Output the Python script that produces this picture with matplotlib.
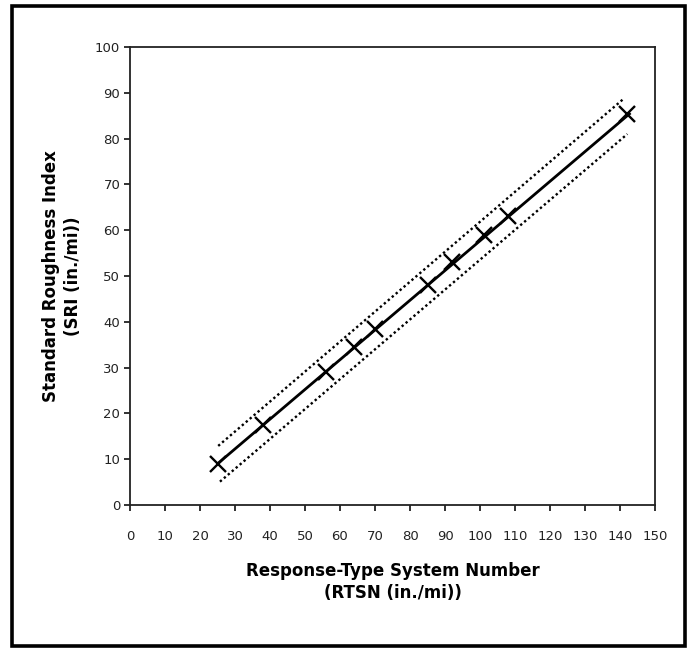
import matplotlib
matplotlib.use("Agg")
from matplotlib import pyplot as plt
from matplotlib.patches import Rectangle

# measured RTSN vs SRI pairs
rtsn = [25, 38, 56, 64, 70, 85, 92, 101, 108, 142]
sri = [9, 17.5, 29, 34.5, 38.5, 48, 53, 59, 63, 85.3]

# regression line and its band (end points)
fit_x = [25, 143]
fit_y = [9, 85.6]
upper_x = [25.2, 141.2]
upper_y = [12.9, 88.8]
lower_x = [25.7, 142.1]
lower_y = [5.1, 81.0]

xticks = list(range(0, 151, 10))
yticks = list(range(0, 101, 10))

plt.rcParams['font.family'] = ['DejaVu Sans']

fig = plt.figure(figsize=(6.93, 6.52), dpi=100)
ax = fig.add_axes([130 / 693, 1 - 505 / 652, 525 / 693, 458 / 652])

ax.plot(upper_x, upper_y, color="black", linewidth=1.7, linestyle=(0, (1, 1.2)))
ax.plot(lower_x, lower_y, color="black", linewidth=1.7, linestyle=(0, (1, 1.2)))
ax.plot(fit_x, fit_y, color="black", linewidth=2.0, solid_capstyle="butt")
ax.plot(rtsn, sri, "x", color="black", markersize=11, markeredgewidth=1.7)

ax.set_xlim(0, 150)
ax.set_ylim(0, 100)
ax.set_xticks(xticks)
ax.set_yticks(yticks)
ax.tick_params(axis="both", labelsize=9.5, length=4, width=1.3, color="#222222",
               labelcolor="#222222")
ax.tick_params(axis="x", pad=14)
ax.tick_params(axis="y", pad=3)
for s in ax.spines.values():
    s.set_linewidth(1.3)
    s.set_color("#222222")

ax.set_xlabel("Response-Type System Number\n(RTSN (in./mi))", fontsize=12,
              fontweight="bold", linespacing=1.25)
ax.set_ylabel("Standard Roughness Index\n(SRI (in./mi))", fontsize=12,
              fontweight="bold", linespacing=1.25)
ax.xaxis.set_label_coords(0.5, -0.125)
ax.yaxis.set_label_coords(-0.092, 0.5)

# outer frame
fig.patches.append(Rectangle((12 / 693, 6 / 652), 673 / 693, 640 / 652,
                             transform=fig.transFigure, fill=False,
                             edgecolor="black", linewidth=2.6))

plt.savefig("out.png", dpi=100)
